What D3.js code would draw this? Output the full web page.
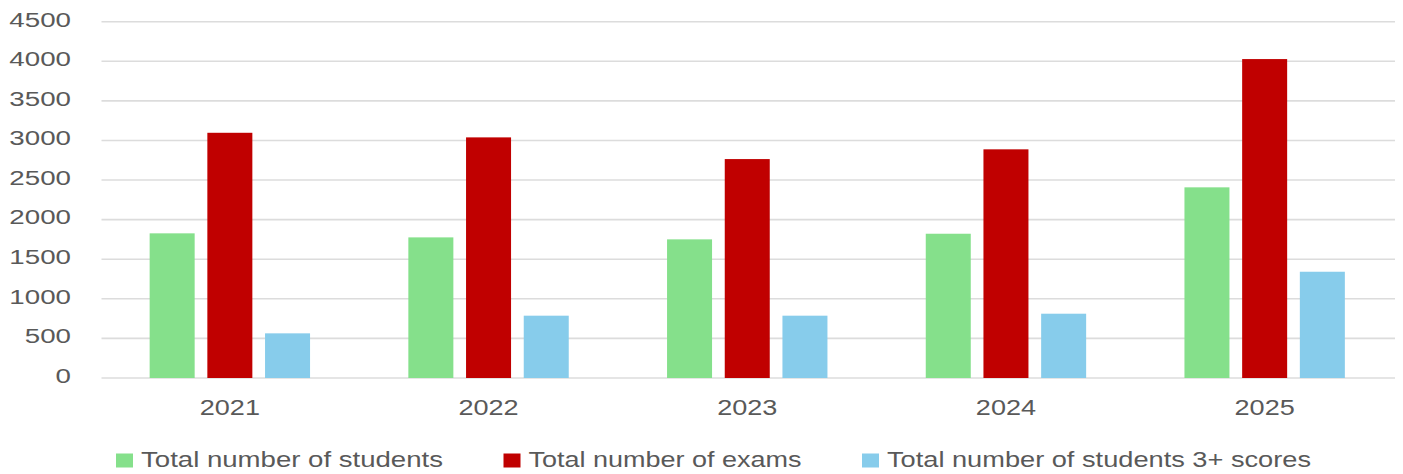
<!DOCTYPE html>
<html>
<head>
<meta charset="utf-8">
<script src="https://cdn.jsdelivr.net/npm/d3@7"></script>
<style>
  html, body { margin: 0; padding: 0; background: #ffffff; }
  svg { display: block; }
</style>
</head>
<body>
<svg id="chart" width="1403" height="474"></svg>
<script>
// ---- data ----
const years = ["2021", "2022", "2023", "2024", "2025"];
const seriesNames = ["Total number of students", "Total number of exams", "Total number of students 3+ scores"];
const students = [1827, 1776, 1751, 1822, 2408];
const exams = [3097, 3039, 2765, 2888, 4028];
const students3plus = [564, 787, 787, 812, 1342];
const yTicks = [0, 500, 1000, 1500, 2000, 2500, 3000, 3500, 4000, 4500];

// ---- styles ----
const colors = ["#85e08b", "#c00000", "#87cceb"];
const textColor = "#595959";
const gridColor = "#dcdcdc";
const fontFamily = "'Liberation Sans', Arial, sans-serif";

const seriesValues = [students, exams, students3plus];
const rows = years.map((yr, i) => ({ year: yr, values: seriesValues.map((s, k) => ({ key: k, value: s[i] })) }));

const svg = d3.select("#chart");
const plotLeft = 101.5, plotRight = 1395, plotTop = 21.7, plotBottom = 378;

const x0 = d3.scaleBand().domain(years).range([plotLeft, plotRight]).paddingInner(0.38).paddingOuter(0.19);
const x1 = d3.scaleBand().domain(d3.range(seriesNames.length)).range([0, x0.bandwidth()]).paddingInner(0.22).paddingOuter(0);
const y = d3.scaleLinear().domain([0, 4500]).range([plotBottom, plotTop]);

// gridlines
svg.append("g").selectAll("line").data(yTicks).join("line")
  .attr("x1", plotLeft).attr("x2", plotRight)
  .attr("y1", d => y(d)).attr("y2", d => y(d))
  .attr("stroke", gridColor).attr("stroke-width", 1.6);

// y labels
svg.append("g").selectAll("g").data(yTicks).join("g")
  .attr("transform", d => `translate(71,${y(d) + 4.8}) scale(1.32,1)`)
  .append("text")
  .attr("text-anchor", "end")
  .attr("font-family", fontFamily).attr("font-size", 21)
  .attr("fill", textColor)
  .text(d => d);

// bars
const groups = svg.append("g").selectAll("g").data(rows).join("g")
  .attr("transform", d => `translate(${x0(d.year) - 1},0)`);
groups.selectAll("rect").data(d => d.values).join("rect")
  .attr("x", d => x1(d.key))
  .attr("width", x1.bandwidth())
  .attr("y", d => y(d.value))
  .attr("height", d => y(0) - y(d.value))
  .attr("fill", d => colors[d.key]);

// x labels
svg.append("g").selectAll("g").data(years).join("g")
  .attr("transform", d => `translate(${x0(d) + x0.bandwidth() / 2 - 1},414.5) scale(1.23,1)`)
  .append("text")
  .attr("text-anchor", "middle")
  .attr("font-family", fontFamily).attr("font-size", 22)
  .attr("fill", textColor)
  .text(d => d);

// legend (stretched glyphs to match reference widths)
const legendTextWidths = [302, 273, 424];
const legend = svg.append("g");
let lx = 116;
seriesNames.forEach((name, k) => {
  legend.append("rect")
    .attr("x", lx).attr("y", 453.5)
    .attr("width", 17).attr("height", 14)
    .attr("fill", colors[k]);
  legend.append("text")
    .attr("x", lx + 25).attr("y", 466.5)
    .attr("font-family", fontFamily).attr("font-size", 22)
    .attr("fill", textColor)
    .attr("textLength", legendTextWidths[k])
    .attr("lengthAdjust", "spacingAndGlyphs")
    .text(name);
  lx += 25 + legendTextWidths[k] + 60.5;
});
</script>
</body>
</html>
